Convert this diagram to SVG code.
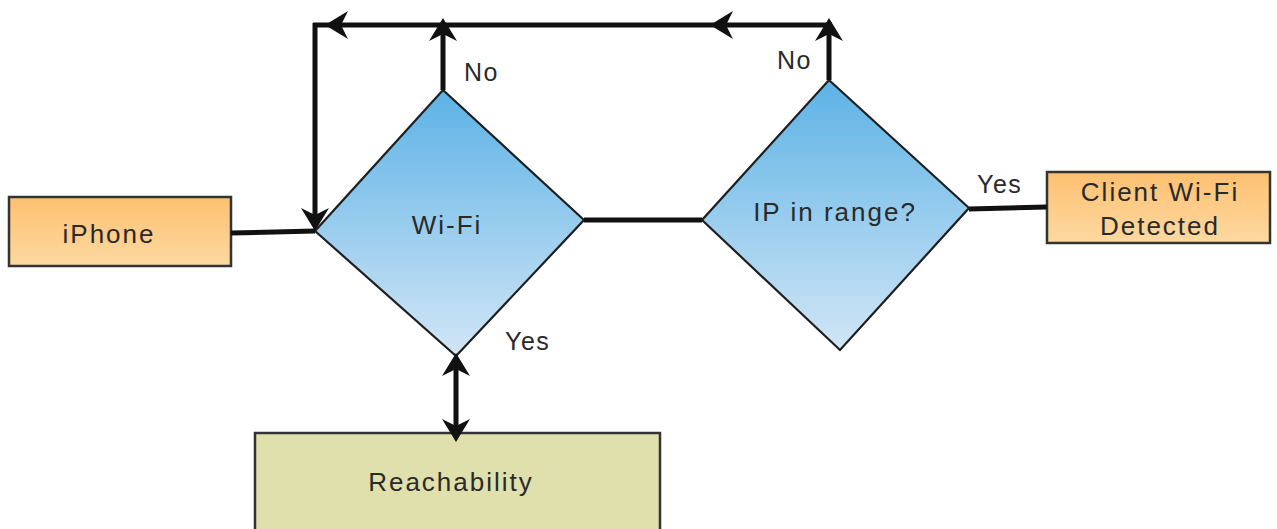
<svg xmlns="http://www.w3.org/2000/svg" xmlns:xlink="http://www.w3.org/1999/xlink" width="1277" height="529" viewBox="0 0 1277 529">
<style>
.lbl{font-family:"Liberation Sans",Arial,sans-serif;font-size:26px;letter-spacing:2px;fill:#2a2a2a;text-anchor:middle}
.edge{font-family:"Liberation Sans",Arial,sans-serif;font-size:25px;letter-spacing:1.5px;fill:#2a2a2a}
.box{stroke:#333;stroke-width:2.5}
.dia{stroke:#1e1e1e;stroke-width:2.2;stroke-linejoin:miter}
.ln{stroke:#111;stroke-width:5;fill:none;stroke-linecap:butt}
.ah{fill:#111}
</style>
<defs>
<linearGradient id="gBlue" x1="0" y1="0" x2="0" y2="1">
<stop offset="0" stop-color="#5cb2e5"/>
<stop offset="1" stop-color="#d2e6f6"/>
</linearGradient>
<linearGradient id="gOrange" x1="0" y1="0" x2="0" y2="1">
<stop offset="0" stop-color="#fdc070"/>
<stop offset="1" stop-color="#fdd9a2"/>
</linearGradient>
<path id="ah" class="ah" d="M0,0 L-23,-14 L-16,0 L-23,14 Z"/>
</defs>
<rect width="1277" height="529" fill="#fff"/>
<g id="iphone">
<rect class="box" x="9" y="197" width="222" height="69" fill="url(#gOrange)"/>
<text class="lbl" x="109" y="243">iPhone</text>
</g>
<g id="wifi">
<polygon class="dia" points="443,90 584,220 456,356 315,231" fill="url(#gBlue)"/>
<text class="lbl" x="447" y="234">Wi-Fi</text>
</g>
<g id="iprange">
<polygon class="dia" points="829,80 969,208 840,350 702,220" fill="url(#gBlue)"/>
<text class="lbl" x="835" y="221">IP in range?</text>
</g>
<g id="client">
<rect class="box" x="1047" y="172" width="223" height="71" fill="url(#gOrange)"/>
<text class="lbl" x="1160" y="201">Client Wi-Fi</text>
<text class="lbl" x="1160" y="235">Detected</text>
</g>
<g id="reachability">
<rect class="box" x="255" y="433" width="405" height="110" fill="#e0e0ad"/>
<text class="lbl" x="451" y="491">Reachability</text>
</g>
<g id="connectors">
<path class="ln" d="M313,25 H831"/>
<path class="ln" d="M315,23 V226"/>
<path class="ln" d="M443,90 V24"/>
<path class="ln" d="M829,80 V22"/>
<path class="ln" d="M231,233 L315,231"/>
<path class="ln" d="M584,220 H702"/>
<path class="ln" d="M969,209 L1047,207"/>
<path class="ln" d="M456,360 V436"/>
<use xlink:href="#ah" transform="translate(325,25) rotate(180)"/>
<use xlink:href="#ah" transform="translate(710,25) rotate(180)"/>
<use xlink:href="#ah" transform="translate(443,18) rotate(-90)"/>
<use xlink:href="#ah" transform="translate(829,18) rotate(-90)"/>
<use xlink:href="#ah" transform="translate(315,231) rotate(90)"/>
<use xlink:href="#ah" transform="translate(456,353) rotate(-90)"/>
<use xlink:href="#ah" transform="translate(456,442) rotate(90)"/>
<text class="edge" x="464" y="81">No</text>
<text class="edge" x="777" y="69">No</text>
<text class="edge" x="505" y="350">Yes</text>
<text class="edge" x="977" y="193">Yes</text>
</g>
</svg>
